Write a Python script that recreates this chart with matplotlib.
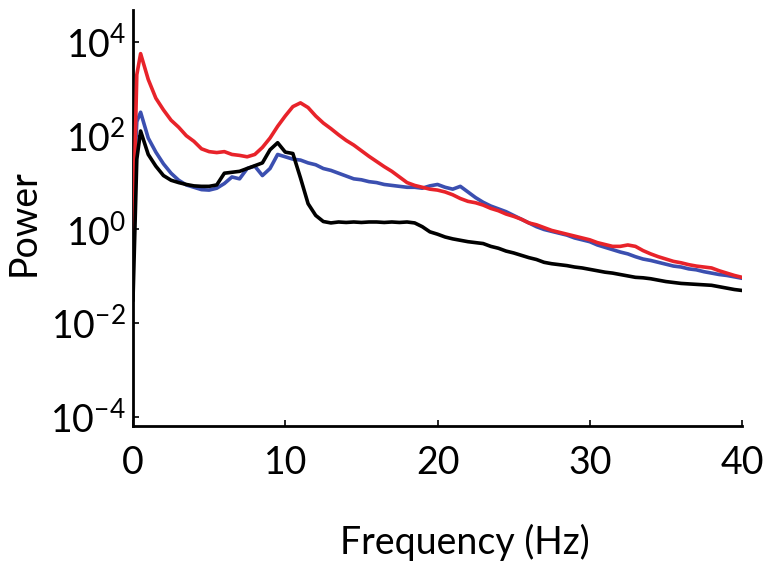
import numpy as np
import matplotlib
matplotlib.use("Agg")
import matplotlib.pyplot as plt

# ---- data ----
freq = [0, 0.25] + [0.5 * i for i in range(1, 81)]

red_log10 = [-0.2, 3.3, 3.75, 3.2, 2.8, 2.55, 2.33, 2.18, 2.0, 1.88, 1.72, 1.66, 1.64, 1.66,
             1.6, 1.58, 1.55, 1.6, 1.75, 1.95, 2.2, 2.42, 2.62, 2.7, 2.6, 2.42, 2.27, 2.15,
             2.02, 1.9, 1.8, 1.68, 1.56, 1.45, 1.34, 1.24, 1.12, 1.0, 0.94, 0.9, 0.86, 0.84,
             0.8, 0.74, 0.66, 0.6, 0.57, 0.52, 0.45, 0.4, 0.33, 0.28, 0.22, 0.14, 0.1, 0.04,
             -0.02, -0.06, -0.1, -0.14, -0.18, -0.22, -0.28, -0.32, -0.36, -0.36, -0.33, -0.36,
             -0.45, -0.52, -0.58, -0.63, -0.68, -0.71, -0.75, -0.78, -0.8, -0.82, -0.88, -0.93,
             -0.98, -1.02]

blue_log10 = [0.5, 2.3, 2.5, 1.95, 1.65, 1.4, 1.2, 1.05, 0.95, 0.9, 0.85, 0.84, 0.88, 0.98,
              1.12, 1.08, 1.3, 1.35, 1.15, 1.3, 1.6, 1.55, 1.5, 1.48, 1.42, 1.38, 1.3, 1.26,
              1.2, 1.14, 1.08, 1.06, 1.02, 1.0, 0.96, 0.94, 0.92, 0.9, 0.9, 0.88, 0.93, 0.96,
              0.9, 0.86, 0.92, 0.8, 0.68, 0.58, 0.5, 0.44, 0.38, 0.3, 0.22, 0.14, 0.06, 0.0,
              -0.04, -0.08, -0.12, -0.18, -0.22, -0.26, -0.33, -0.38, -0.43, -0.48, -0.52, -0.58,
              -0.63, -0.66, -0.7, -0.74, -0.78, -0.8, -0.84, -0.86, -0.9, -0.93, -0.96, -0.98,
              -1.01, -1.04]

black_log10 = [-1.5, 1.5, 2.1, 1.6, 1.35, 1.15, 1.05, 1.0, 0.96, 0.93, 0.92, 0.92, 0.95, 1.2,
               1.22, 1.24, 1.3, 1.36, 1.42, 1.7, 1.85, 1.65, 1.62, 1.1, 0.55, 0.3, 0.17, 0.14,
               0.16, 0.15, 0.16, 0.15, 0.16, 0.16, 0.15, 0.16, 0.15, 0.16, 0.14, 0.06, -0.05, -0.1,
               -0.16, -0.2, -0.23, -0.26, -0.28, -0.3, -0.36, -0.4, -0.46, -0.5, -0.55, -0.6,
               -0.64, -0.7, -0.73, -0.75, -0.77, -0.8, -0.82, -0.85, -0.88, -0.91, -0.93, -0.96,
               -0.99, -1.02, -1.03, -1.05, -1.08, -1.11, -1.13, -1.15, -1.16, -1.17, -1.18, -1.19,
               -1.22, -1.25, -1.28, -1.3]

x_ticks = [0, 10, 20, 30, 40]
x_tick_labels = ["0", "10", "20", "30", "40"]
y_ticks = [1e-4, 1e-2, 1e0, 1e2, 1e4]
y_tick_labels = [r"$\mathregular{10^{-4}}$", r"$\mathregular{10^{-2}}$", r"$\mathregular{10^{0}}$",
                 r"$\mathregular{10^{2}}$", r"$\mathregular{10^{4}}$"]

# ---- plot ----
plt.rcParams['font.family'] = ['Lato', 'DejaVu Sans']
plt.rcParams['mathtext.fontset'] = 'custom'
plt.rcParams['mathtext.rm'] = 'Lato'

fig = plt.figure(figsize=(7.69, 5.67), dpi=100)
ax = fig.add_axes([133 / 769, 1 - 426 / 567, (742 - 133) / 769, (426 - 10) / 567])

f = np.array(freq)
ax.plot(f, 10 ** np.array(blue_log10), color="#3b4fb0", lw=2.6, zorder=2)
ax.plot(f, 10 ** np.array(red_log10), color="#e8232a", lw=2.6, zorder=3)
ax.plot(f, 10 ** np.array(black_log10), color="black", lw=2.6, zorder=4)

ax.set_yscale("log")
ax.set_xlim(0, 40)
ax.set_ylim(10 ** -4.19, 10 ** 4.68)
ax.set_xticks(x_ticks)
ax.set_xticklabels(x_tick_labels)
ax.set_yticks(y_ticks)
ax.set_yticklabels(y_tick_labels)
ax.minorticks_off()
ax.tick_params(axis="both", direction="in", length=4, width=1.2, labelsize=27)
ax.tick_params(axis="x", pad=14)
ax.tick_params(axis="y", pad=5)

for s in ["top", "right"]:
    ax.spines[s].set_visible(False)
for s in ["left", "bottom"]:
    ax.spines[s].set_linewidth(2)

ax.set_xlabel("Frequency (Hz)", fontsize=27)
ax.xaxis.set_label_coords(0.545, -0.235)
ax.set_ylabel("Power", fontsize=27)
ax.yaxis.set_label_coords(-0.15, 0.49)

fig.savefig("out.png", dpi=100)
